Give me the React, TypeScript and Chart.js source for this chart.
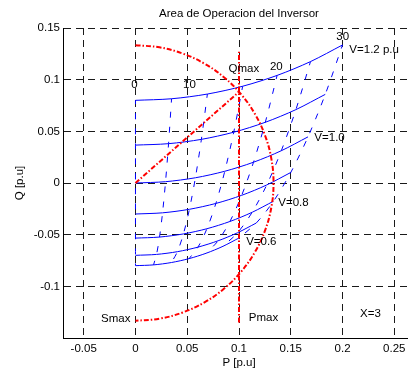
import React, { useEffect, useRef } from "react";
import { Chart, registerables } from "chart.js";

Chart.register(...registerables);

// Load angle (degrees) sampled along every constant-voltage curve
const deltaDeg = [0, 5, 10, 15, 20, 25, 30];
const voltageLevels = [1.2, 1.1, 1.0, 0.9, 0.8, 0.7, 0.6];

// Active power P and reactive power Q [p.u] for each voltage level, X = 3
const pV12 = [0, 0.03486, 0.06946, 0.10353, 0.13681, 0.16905, 0.2];
const qV12 = [0.08, 0.08152, 0.08608, 0.09363, 0.10412, 0.11748, 0.13359];
const pV11 = [0, 0.03196, 0.06367, 0.0949, 0.12541, 0.15496, 0.18333];
const qV11 = [0.03667, 0.03806, 0.04223, 0.04915, 0.05877, 0.07101, 0.08578];
const pV10 = [0, 0.02905, 0.05788, 0.08627, 0.11401, 0.14087, 0.16667];
const qV10 = [0, 0.00127, 0.00506, 0.01136, 0.0201, 0.03123, 0.04466];
const pV09 = [0, 0.02615, 0.0521, 0.07765, 0.10261, 0.12679, 0.15];
const qV09 = [-0.03, -0.02886, -0.02544, -0.01978, -0.01191, -0.00189, 0.01019];
const pV08 = [0, 0.02324, 0.04631, 0.06902, 0.09121, 0.1127, 0.13333];
const qV08 = [-0.05333, -0.05232, -0.04928, -0.04425, -0.03725, -0.02835, -0.01761];
const pV07 = [0, 0.02034, 0.04052, 0.06039, 0.0798, 0.09861, 0.11667];
const qV07 = [-0.07, -0.06911, -0.06646, -0.06205, -0.05593, -0.04814, -0.03874];
const pV06 = [0, 0.01743, 0.03473, 0.05176, 0.0684, 0.08452, 0.1];
const qV06 = [-0.08, -0.07924, -0.07696, -0.07319, -0.06794, -0.06126, -0.05321];

// Apparent power limit Smax (semicircle, every 10 degrees from +90 to -90)
const smaxP = [0, 0.02315, 0.0456, 0.06667, 0.0857, 0.10214, 0.11547, 0.12529, 0.13131, 0.13333,
  0.13131, 0.12529, 0.11547, 0.10214, 0.0857, 0.06667, 0.0456, 0.02315, 0];
const smaxQ = [0.13333, 0.13131, 0.12529, 0.11547, 0.10214, 0.0857, 0.06667, 0.0456, 0.02315, 0,
  -0.02315, -0.0456, -0.06667, -0.0857, -0.10214, -0.11547, -0.12529, -0.13131, -0.13333];

// Line from the origin to the Qmax operating point
const qmaxLineP = [0, 0.1];
const qmaxLineQ = [0, 0.0882];

// Active power limit Pmax
const pmaxLineP = [0.1, 0.1];
const pmaxLineQ = [-0.135, 0.127];

// Axis ticks
const xTickValues = [-0.05, 0, 0.05, 0.1, 0.15, 0.2, 0.25];
const xTickLabels = ["-0.05", "0", "0.05", "0.1", "0.15", "0.2", "0.25"];
const yTickValues = [-0.1, -0.05, 0, 0.05, 0.1, 0.15];
const yTickLabels = ["-0.1", "-0.05", "0", "0.05", "0.1", "0.15"];

const FONT_FAMILY = '"Liberation Sans", Arial, Helvetica, sans-serif';
const FONT_SIZE = 11.5;
const BLUE = "#0000ff";
const RED = "#ff0000";

const pTable = [pV12, pV11, pV10, pV09, pV08, pV07, pV06];
const qTable = [qV12, qV11, qV10, qV09, qV08, qV07, qV06];

const toPoints = (ps: number[], qs: number[]) => ps.map((p, i) => ({ x: p, y: qs[i] }));

const textPlugin = {
  id: "operatingAreaText",
  afterDatasetsDraw(chart: any) {
    const { ctx, chartArea, scales } = chart;
    const sx = scales.x;
    const sy = scales.y;
    const labels: { text: string; p: number; q: number; align: CanvasTextAlign }[] = [
      { text: "0", p: -0.001, q: 0.0951, align: "center" },
      { text: "10", p: 0.0521, q: 0.0951, align: "center" },
      { text: "20", p: 0.1361, q: 0.1124, align: "center" },
      { text: "30", p: 0.2001, q: 0.1412, align: "center" },
      { text: "Qmax", p: 0.1047, q: 0.1103, align: "center" },
      { text: "V=1.2 p.u", p: 0.2066, q: 0.1286, align: "left" },
      { text: "V=1.0", p: 0.1728, q: 0.0438, align: "left" },
      { text: "V=0.8", p: 0.138, q: -0.0191, align: "left" },
      { text: "V=0.6", p: 0.1069, q: -0.0565, align: "left" },
      { text: "Smax", p: -0.0048, q: -0.1315, align: "right" },
      { text: "Pmax", p: 0.1094, q: -0.1306, align: "left" },
      { text: "X=3", p: 0.2169, q: -0.1264, align: "left" },
    ];
    ctx.save();
    ctx.font = `${FONT_SIZE}px ${FONT_FAMILY}`;
    ctx.fillStyle = "#000";
    ctx.textBaseline = "middle";
    ctx.textAlign = "center";
    ctx.fillText("Area de Operacion del Inversor", (chartArea.left + chartArea.right) / 2, chartArea.top - 14);
    for (const l of labels) {
      ctx.textAlign = l.align;
      ctx.fillText(l.text, sx.getPixelForValue(l.p), sy.getPixelForValue(l.q));
    }
    ctx.restore();
  },
};

export default function App() {
  const canvasRef = useRef<HTMLCanvasElement | null>(null);

  useEffect(() => {
    if (!canvasRef.current) return;

    const font = { family: FONT_FAMILY, size: FONT_SIZE };

    const datasets: any[] = [
      {
        label: "Pmax",
        data: toPoints(pmaxLineP, pmaxLineQ),
        borderColor: RED,
        borderWidth: 2,
        borderDash: [5, 2, 1.5, 2],
      },
      {
        label: "Qmax",
        data: toPoints(qmaxLineP, qmaxLineQ),
        borderColor: RED,
        borderWidth: 2,
        borderDash: [5, 2, 1.5, 2],
      },
      {
        label: "Smax",
        data: toPoints(smaxP, smaxQ),
        borderColor: RED,
        borderWidth: 2,
        borderDash: [5, 2, 1.5, 2],
        tension: 0.4,
      },
    ];

    // Constant-voltage curves
    voltageLevels.forEach((v, i) => {
      datasets.push({
        label: `V=${v}`,
        data: toPoints(pTable[i], qTable[i]),
        borderColor: BLUE,
        borderWidth: 1,
        tension: 0.3,
      });
    });

    // Constant load-angle lines across the voltage levels
    deltaDeg.forEach((d, j) => {
      datasets.push({
        label: `delta=${d}`,
        data: voltageLevels.map((_, i) => ({ x: pTable[i][j], y: qTable[i][j] })),
        borderColor: BLUE,
        borderWidth: 1,
        borderDash: [6, 9],
        borderDashOffset: 2,
        tension: 0.3,
      });
    });

    datasets.forEach((ds) => {
      ds.showLine = true;
      ds.pointRadius = 0;
      ds.fill = false;
    });

    const chart = new Chart(canvasRef.current, {
      type: "scatter",
      data: { datasets },
      options: {
        responsive: false,
        animation: false,
        devicePixelRatio: 1,
        layout: { padding: { left: 0, top: 28, right: 5, bottom: 0 } },
        plugins: {
          legend: { display: false },
          tooltip: { enabled: false },
          title: { display: false },
        },
        scales: {
          x: {
            type: "linear",
            min: -0.07,
            max: 0.27,
            afterBuildTicks: (scale: any) => {
              scale.ticks = xTickValues.map((value) => ({ value }));
            },
            afterFit: (scale: any) => {
              scale.height = 35;
            },
            ticks: {
              font,
              color: "#000",
              padding: 4,
              maxRotation: 0,
              autoSkip: false,
              callback: (_v: any, i: number) => xTickLabels[i],
            },
            grid: { color: "#1a1a1a", lineWidth: 1, drawTicks: false },
            border: { display: true, color: "#000", width: 1, dash: [7, 5] },
            title: { display: true, text: "P [p.u]", font, color: "#000", padding: { top: 0, bottom: 3 } },
          },
          y: {
            type: "linear",
            min: -0.15,
            max: 0.15,
            afterBuildTicks: (scale: any) => {
              scale.ticks = yTickValues.map((value) => ({ value }));
            },
            afterFit: (scale: any) => {
              scale.width = 63;
            },
            ticks: {
              font,
              color: "#000",
              padding: 3,
              autoSkip: false,
              callback: (_v: any, i: number) => yTickLabels[i],
            },
            grid: { color: "#1a1a1a", lineWidth: 1, drawTicks: false },
            border: { display: true, color: "#000", width: 1, dash: [7, 5] },
            title: { display: true, text: "Q [p.u]", font, color: "#000", padding: { top: 13, bottom: 0 } },
          },
        },
      },
      plugins: [textPlugin],
    });

    return () => chart.destroy();
  }, []);

  return (
    <div
      style={{
        position: "fixed",
        left: 0,
        top: 0,
        width: 408,
        height: 373,
        overflow: "hidden",
        background: "#fff",
      }}
    >
      <canvas ref={canvasRef} width={420} height={373} style={{ display: "block", width: 420, height: 373 }} />
    </div>
  );
}
